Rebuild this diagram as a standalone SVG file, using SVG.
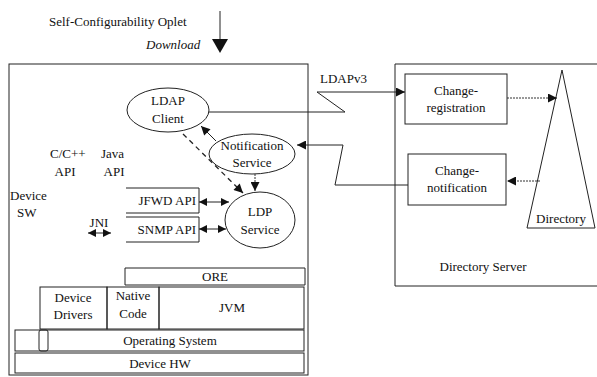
<svg xmlns="http://www.w3.org/2000/svg" width="597" height="377" viewBox="0 0 597 377">
  <style>
    text { font-family: Liberation Serif, serif; font-size: 13px; fill: #111; }
    .c { text-anchor: middle; }
    .box { fill: none; stroke: #222; stroke-width: 1; }
    .ln { fill: none; stroke: #222; stroke-width: 1; }
    .dash { fill: none; stroke: #222; stroke-width: 1.3; stroke-dasharray: 5 4; }
    .dot { fill: none; stroke: #333; stroke-width: 1; stroke-dasharray: 2 1; }
  </style>
  <defs>
    <marker id="ah" viewBox="0 0 10 10" refX="10" refY="5" markerWidth="10" markerHeight="9" markerUnits="userSpaceOnUse" orient="auto-start-reverse">
      <path d="M0,0 L10,5 L0,10 Z" fill="#111"/>
    </marker>
    <marker id="ahs" viewBox="0 0 10 10" refX="10" refY="5" markerWidth="8" markerHeight="8" markerUnits="userSpaceOnUse" orient="auto-start-reverse">
      <path d="M0,0 L10,5 L0,10 Z" fill="#111"/>
    </marker>
  </defs>

  <!-- download header -->
  <g id="download">
    <text x="49" y="26">Self-Configurability Oplet</text>
    <text x="146" y="49" font-style="italic">Download</text>
    <line class="ln" x1="220" y1="11" x2="220" y2="40" stroke-width="2"/>
    <path d="M212,39 L228,39 L220,53 Z" fill="#111"/>
  </g>

  <!-- device container -->
  <g id="device">
    <rect class="box" x="9" y="64" width="299" height="311"/>
    <text x="10" y="200">Device</text>
    <text x="17" y="217">SW</text>
    <text x="50" y="158">C/C++</text>
    <text x="65" y="176" class="c">API</text>
    <text x="101" y="158">Java</text>
    <text x="114" y="176" class="c">API</text>
    <text x="99" y="227" class="c">JNI</text>
  </g>

  <g id="ldap-client">
    <ellipse class="box" cx="168" cy="110" rx="41" ry="22"/>
    <text x="168" y="105" class="c">LDAP</text>
    <text x="168" y="123" class="c">Client</text>
  </g>

  <g id="notification-service">
    <ellipse class="box" cx="252" cy="154" rx="43" ry="20"/>
    <text x="252" y="150" class="c">Notification</text>
    <text x="252" y="167" class="c">Service</text>
  </g>

  <g id="ldp-service">
    <ellipse class="box" cx="260" cy="220" rx="35" ry="28"/>
    <text x="260" y="216" class="c">LDP</text>
    <text x="260" y="234" class="c">Service</text>
  </g>

  <g id="jfwd-api">
    <path class="ln" d="M126,188 H199 V213 H126"/>
    <text x="196" y="205" text-anchor="end">JFWD API</text>
  </g>

  <g id="snmp-api">
    <path class="ln" d="M126,217 H199 V242 H126"/>
    <text x="196" y="234" text-anchor="end">SNMP API</text>
  </g>

  <!-- runtime stack -->
  <g id="ore">
    <path class="ln" d="M125,268 H305 V285 H125 Z"/>
    <text x="215" y="281" class="c">ORE</text>
  </g>
  <g id="device-drivers">
    <rect class="box" x="40" y="287" width="67" height="42"/>
    <text x="73" y="302" class="c">Device</text>
    <text x="73" y="319" class="c">Drivers</text>
  </g>
  <g id="native-code">
    <rect class="box" x="107" y="287" width="52" height="42"/>
    <text x="133" y="300" class="c">Native</text>
    <text x="133" y="318" class="c">Code</text>
  </g>
  <g id="jvm">
    <rect class="box" x="159" y="287" width="145" height="42"/>
    <text x="232" y="312" class="c">JVM</text>
  </g>
  <g id="operating-system">
    <rect class="box" x="15" y="330" width="289" height="21"/>
    <rect class="box" x="39" y="330" width="9" height="21" rx="2"/>
    <text x="170" y="345" class="c">Operating System</text>
  </g>
  <g id="device-hw">
    <rect class="box" x="15" y="353" width="289" height="20"/>
    <text x="160" y="368" class="c">Device HW</text>
  </g>

  <!-- directory server -->
  <g id="directory-server">
    <path class="ln" d="M395,64 H597 M395,64 V286 H597"/>
    <text x="483" y="271" class="c">Directory Server</text>
  </g>
  <g id="change-registration">
    <rect class="box" x="405" y="74" width="102" height="50"/>
    <text x="456" y="95" class="c">Change-</text>
    <text x="456" y="112" class="c">registration</text>
  </g>
  <g id="change-notification">
    <rect class="box" x="408" y="154" width="98" height="51"/>
    <text x="457" y="175" class="c">Change-</text>
    <text x="457" y="192" class="c">notification</text>
  </g>
  <g id="directory">
    <path class="ln" d="M562,70 L527,228 H595 Z"/>
    <text x="561" y="223" class="c">Directory</text>
  </g>

  <!-- connectors -->
  <g id="connectors">
    <text x="320" y="83">LDAPv3</text>
    <path class="ln" d="M209,112 H345 L317,92 H405" marker-end="url(#ah)"/>
    <path class="ln" d="M408,185 H335 L343,145 H297" marker-end="url(#ah)"/>
    <path class="dash" d="M183,134 L243,193" marker-end="url(#ah)"/>
    <path class="ln" d="M216,141 L201,126" stroke-width="1.5" marker-end="url(#ah)"/>
    <path class="dot" d="M255,174 V191" marker-end="url(#ah)"/>
    <path class="ln" d="M199,202 H229" marker-start="url(#ahs)" marker-end="url(#ahs)"/>
    <path class="ln" d="M199,229 H226" marker-start="url(#ahs)" marker-end="url(#ahs)"/>
    <path class="ln" d="M88,233 H111" stroke-width="1.5" marker-start="url(#ahs)" marker-end="url(#ahs)"/>
    <path class="dot" d="M507,98 H557" marker-end="url(#ah)"/>
    <path class="dot" d="M540,181 H507" marker-end="url(#ah)"/>
  </g>
</svg>
